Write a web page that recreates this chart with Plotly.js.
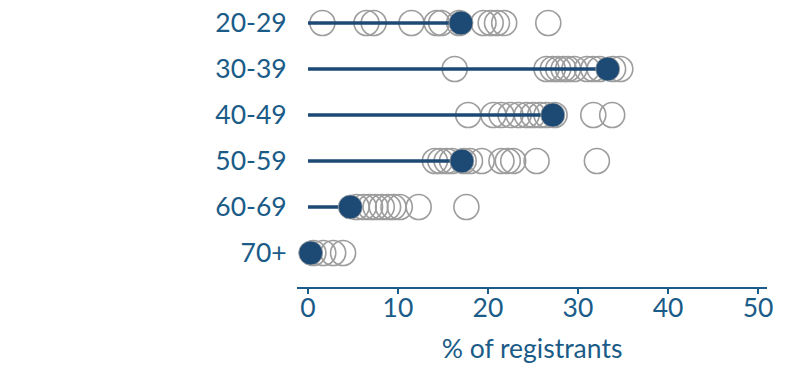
<!DOCTYPE html>
<html>
<head>
<meta charset="utf-8">
<script src="https://cdn.plot.ly/plotly-3.0.1.min.js"></script>
<style>html,body{margin:0;padding:0;background:#fff;}#chart{width:800px;height:378px;}</style>
</head>
<body>
<div id="chart"></div>
<script>
// Age groups (top to bottom)
const ageGroups = ["20-29", "30-39", "40-49", "50-59", "60-69", "70+"];
// Overall share (filled dot) per age group, % of registrants
const overall = [17.0, 33.3, 27.2, 17.1, 4.7, 0.3];
// Individual shares (open circles) per age group
const group2029 = [1.6, 6.5, 7.3, 11.5, 14.3, 14.8, 16.8, 19.5, 20.3, 21.0, 21.8, 26.7];
const group3039 = [16.3, 26.5, 27.2, 27.8, 28.4, 28.9, 29.6, 31.0, 31.7, 32.4, 33.9, 34.7];
const group4049 = [17.8, 20.6, 21.5, 22.5, 23.4, 24.3, 25.0, 25.8, 26.5, 27.4, 31.7, 33.8];
const group5059 = [14.1, 14.7, 15.4, 16.0, 17.3, 18.0, 19.3, 21.5, 22.2, 22.8, 25.4, 32.1];
const group6069 = [5.4, 6.2, 6.9, 7.5, 8.2, 8.9, 9.5, 10.2, 12.3, 17.6];
const group70 = [0.6, 1.7, 2.8, 3.9];
const groupValues = [group2029, group3039, group4049, group5059, group6069, group70];
const xTicks = [0, 10, 20, 30, 40, 50];

const textColor = "#1a5b88";
const navy = "#1d4a74";

const openX = [], openY = [];
groupValues.forEach((vals, i) => vals.forEach(v => { openX.push(v); openY.push(ageGroups[i]); }));

const lineX = [], lineY = [];
overall.forEach((v, i) => { lineX.push(0, v, null); lineY.push(ageGroups[i], ageGroups[i], null); });

const traces = [
  {type: "scatter", mode: "markers", x: openX, y: openY, hoverinfo: "x",
   marker: {size: 25, color: "rgba(255,255,255,0)", line: {color: "#9d9d9d", width: 1.6}}},
  {type: "scatter", mode: "lines", x: lineX, y: lineY, hoverinfo: "skip",
   line: {color: navy, width: 3.4}},
  {type: "scatter", mode: "markers", x: overall, y: ageGroups, hoverinfo: "x",
   marker: {size: 24, color: navy, line: {color: "#a3a3a3", width: 0.8}}}
];

const layout = {
  width: 800, height: 378,
  margin: {l: 297, r: 33, t: 0, b: 91},
  paper_bgcolor: "#fff", plot_bgcolor: "#fff",
  showlegend: false,
  font: {family: "Lato, 'Open Sans', sans-serif", size: 26.5, color: textColor},
  xaxis: {
    range: [-1.22, 51], tickvals: xTicks, ticktext: xTicks.map(String),
    showgrid: false, zeroline: false, showline: true, linecolor: textColor, linewidth: 1.5,
    ticks: "outside", ticklen: 5, tickwidth: 1.3, tickcolor: textColor,
    ticklabelstandoff: -8,
    tickfont: {size: 26.5, color: textColor},
    title: {text: "% of registrants", font: {size: 26.5, color: textColor}, standoff: 17}
  },
  yaxis: {
    type: "category", categoryarray: ageGroups, range: [5.739, -0.5], autorange: false,
    showgrid: false, zeroline: false, showline: false,
    ticks: "outside", ticklen: 4, tickcolor: "rgba(0,0,0,0)",
    tickfont: {size: 26.5, color: textColor}
  }
};

Plotly.newPlot("chart", traces, layout, {displayModeBar: false, staticPlot: true});
</script>
</body>
</html>
